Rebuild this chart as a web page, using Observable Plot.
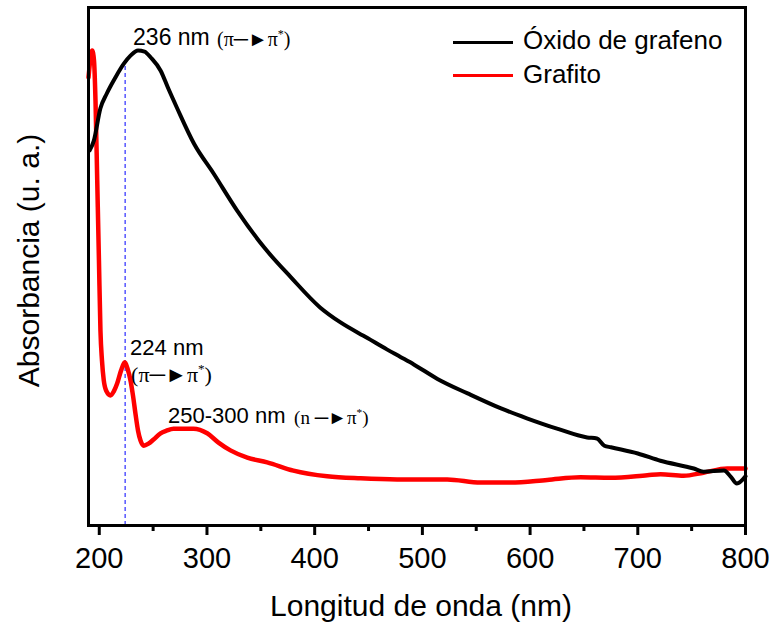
<!DOCTYPE html>
<html>
<head>
<meta charset="utf-8">
<script src="https://cdn.jsdelivr.net/npm/d3@7"></script>
<script src="https://cdn.jsdelivr.net/npm/@observablehq/plot@0.6"></script>
<style>
  body { margin: 0; background: #fff; }
  #chart { position: relative; width: 772px; height: 623px; }
  .lg-line { position: absolute; width: 60px; height: 3px; }
  .lg-text { position: absolute; font: 26px "Liberation Sans", Arial, sans-serif; line-height: 1; color: #000; white-space: nowrap; }
</style>
</head>
<body>
<div id="chart"></div>
<script>
// UV-Vis spectra: graphene oxide and graphite (absorbance in arbitrary units)
const goWavelength = [191, 195, 201, 207, 215, 223, 229, 236, 242, 248, 257, 264, 272, 288, 306, 328, 353, 378, 405, 424, 449, 467, 480, 492, 514, 542, 573, 597, 625, 653, 662, 669, 675, 700, 721, 752, 761, 780, 786, 792, 800];
const goAbsorbance = [0.724, 0.743, 0.805, 0.834, 0.865, 0.892, 0.907, 0.917, 0.915, 0.903, 0.878, 0.844, 0.807, 0.737, 0.680, 0.608, 0.537, 0.479, 0.421, 0.392, 0.362, 0.340, 0.325, 0.311, 0.283, 0.255, 0.226, 0.207, 0.187, 0.170, 0.168, 0.154, 0.151, 0.139, 0.125, 0.110, 0.104, 0.106, 0.095, 0.081, 0.095];

const graphiteWavelength = [190, 191.9, 193.4, 195.1, 196.5, 198.1, 199.7, 201.1, 202.5, 204.2, 206.7, 210.4, 213.5, 216.6, 220.2, 223.7, 226.2, 229, 231.3, 233.6, 236, 238.3, 241.3, 245.7, 250.4, 256.9, 262.4, 268.9, 287.5, 300.2, 310.7, 321.8, 337.4, 355.9, 380.3, 411.6, 442.6, 476.6, 523.1, 554, 581.8, 615.9, 646.8, 674.7, 708.8, 721.1, 742.5, 761, 783, 800];
const graphiteAbsorbance = [0.865, 0.902, 0.917, 0.898, 0.820, 0.666, 0.512, 0.376, 0.319, 0.280, 0.259, 0.251, 0.259, 0.274, 0.299, 0.315, 0.303, 0.280, 0.251, 0.216, 0.183, 0.164, 0.154, 0.158, 0.166, 0.178, 0.183, 0.187, 0.187, 0.178, 0.160, 0.145, 0.131, 0.122, 0.106, 0.095, 0.091, 0.089, 0.089, 0.083, 0.083, 0.088, 0.093, 0.092, 0.097, 0.099, 0.096, 0.102, 0.110, 0.110];

const xTicks = [200, 300, 400, 500, 600, 700, 800];
const xMinorTicks = [250, 350, 450, 550, 650, 750];
const seriesNames = ["Óxido de grafeno", "Grafito"];
const seriesColors = ["#000000", "#ff0000"];
const xTitle = "Longitud de onda (nm)";
const yTitle = "Absorbancia (u. a.)";

// band markers: wavelength, absorbance at the marker, label, transition
const bandWavelength = [236, 224, 275];
const bandAbsorbance = [0.917, 0.315, 0.187];
const bandLabel = ["236 nm", "224 nm", "250-300 nm"];
const bandTransition = ["(π─►π*)", "(π─►π*)", "(n ─►π*)"];
const guideWavelength = 224;
const guideTop = 0.893;

const sans = '"Liberation Sans", Arial, Helvetica, sans-serif';
const serif = '"Liberation Serif", "Times New Roman", serif';

const goRows = goWavelength.map((nm, i) => ({nm, a: goAbsorbance[i]}));
const graphiteRows = graphiteWavelength.map((nm, i) => ({nm, a: graphiteAbsorbance[i]}));
const bands = bandWavelength.map((nm, i) => ({nm, a: bandAbsorbance[i], label: bandLabel[i], transition: bandTransition[i]}));

// label placement (pixels relative to each band point)
const labelOffsets = [
  {dx: -5, dy: -5, size: 23, tdx: 79, tdy: -4, tsize: 20},
  {dx: 5, dy: -7, size: 22, tdx: 6, tdy: 20, tsize: 22},
  {dx: -12, dy: -6, size: 22, tdx: 114, tdy: -5, tsize: 19}
];

const bandMarks = bands.flatMap((b, i) => {
  const o = labelOffsets[i];
  return [
    Plot.text([b], {x: "nm", y: "a", text: "label", textAnchor: "start", lineAnchor: "bottom",
      dx: o.dx, dy: o.dy, fontSize: o.size, fontFamily: sans, fill: "#000"}),
    Plot.text([b], {x: "nm", y: "a", text: "transition", textAnchor: "start", lineAnchor: "bottom",
      dx: o.tdx, dy: o.tdy, fontSize: o.tsize, fontFamily: serif, fill: "#000"})
  ];
});

const plot = Plot.plot({
  width: 772,
  height: 623,
  marginLeft: 88,
  marginRight: 27,
  marginTop: 7,
  marginBottom: 98,
  style: {fontFamily: sans, fontSize: "29px", color: "#000", background: "#fff"},
  x: {domain: [190, 800]},
  y: {domain: [0, 1], axis: null},
  marks: [
    Plot.ruleX([guideWavelength], {x: d => d, y1: 0, y2: guideTop, stroke: "#0000ff", strokeWidth: 1, strokeDasharray: "4,3"}),
    Plot.line(graphiteRows, {x: "nm", y: "a", stroke: seriesColors[1], strokeWidth: 4.5, curve: "monotone-x"}),
    Plot.line(goRows, {x: "nm", y: "a", stroke: seriesColors[0], strokeWidth: 4, curve: "monotone-x"}),
    Plot.frame({stroke: "#000", strokeWidth: 3}),
    Plot.axisX({ticks: xTicks, tickSize: 10, tickPadding: 12, strokeWidth: 3, label: null, fontSize: 29, fontFamily: sans}),
    Plot.axisX({ticks: xMinorTicks, tickSize: 6, strokeWidth: 3, text: null, label: null}),
    Plot.text([xTitle], {frameAnchor: "bottom", textAnchor: "middle", dx: 4, dy: 81, lineAnchor: "middle", fontSize: 30, fontFamily: sans, text: d => d}),
    Plot.text([yTitle], {frameAnchor: "left", textAnchor: "middle", rotate: -90, dx: -59, dy: -6, lineAnchor: "middle", fontSize: 30, fontFamily: sans, text: d => d}),
    ...bandMarks
  ]
});

const chart = document.getElementById("chart");
chart.appendChild(plot);

// raise the asterisk of π* as a superscript
d3.select(plot).selectAll("text").each(function () {
  const t = this.textContent;
  const i = t.indexOf("*");
  if (i < 0 || this.querySelector("tspan")) return;
  const fs = parseFloat(getComputedStyle(this).fontSize) || 20;
  const sel = d3.select(this);
  sel.text(null);
  sel.append("tspan").text(t.slice(0, i));
  sel.append("tspan").attr("dy", -fs * 0.42).attr("font-size", fs * 0.6).text("*");
  sel.append("tspan").attr("dy", fs * 0.42).text(t.slice(i + 1));
});

// legend inside the frame, top right
const legendRows = [
  {line: 41.2, text: 27.3},
  {line: 73.5, text: 61.3}
];
seriesNames.forEach((name, i) => {
  const sw = document.createElement("div");
  sw.className = "lg-line";
  sw.style.left = "453px";
  sw.style.top = legendRows[i].line + "px";
  sw.style.background = seriesColors[i];
  chart.appendChild(sw);
  const tx = document.createElement("div");
  tx.className = "lg-text";
  tx.style.left = "523px";
  tx.style.top = legendRows[i].text + "px";
  tx.textContent = name;
  chart.appendChild(tx);
});
</script>
</body>
</html>
